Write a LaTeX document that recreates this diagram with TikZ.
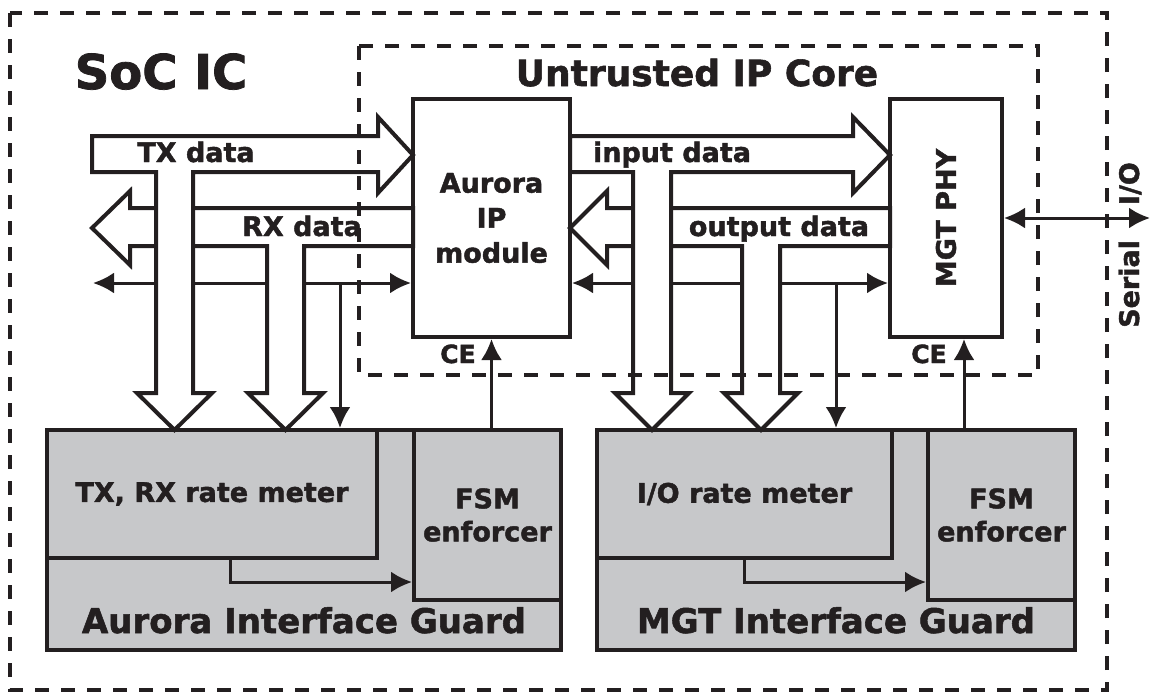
\documentclass[tikz,border=0pt]{standalone}
\usepackage{fontspec}
\setmainfont{DejaVu Sans}[BoldFeatures={FakeBold=1.6}]
\usetikzlibrary{arrows.meta}
\definecolor{ink}{HTML}{231F20}
\definecolor{guardgray}{HTML}{C7C8CA}

\begin{document}
\begin{tikzpicture}[x=1pt, y=-1pt, line join=miter,
    box/.style={draw=ink, line width=4pt, fill=white, inner sep=0pt},
    guard/.style={draw=ink, line width=4pt, fill=guardgray, inner sep=0pt,
        text=ink, align=center, font=\bfseries\fontsize{27}{33}\selectfont},
    fat/.style={draw=ink, line width=4pt, fill=white},
    thin/.style={draw=ink, line width=3pt, -{Latex[length=21pt,width=21pt]}},
    both/.style={thin, {Latex[length=21pt,width=21pt]}-{Latex[length=21pt,width=21pt]}},
    zone/.style={draw=ink, line width=4pt, dash pattern=on 14pt off 12pt},
    lbl/.style={text=ink, inner sep=0pt, align=center, font=\bfseries\fontsize{27}{33}\selectfont},
    title/.style={text=ink, inner sep=0pt, anchor=base, font=\bfseries\fontsize{34}{34}\selectfont}]

    \useasboundingbox (0,0) rectangle (1151,691);

    % 1. Titles
    \node[title, font=\bfseries\fontsize{48}{48}\selectfont] (soc) at (161,89) {SoC IC};
    \node[title, font=\bfseries\fontsize{36}{36}\selectfont] (core) at (697,86) {Untrusted IP Core};

    % 2. IP core blocks
    \node[box, minimum width=157pt, minimum height=238pt] (aurora) at (491.5,218) {};
    \node[lbl, font=\bfseries\fontsize{27}{35}\selectfont] (auroral) at (aurora.center) {Aurora\\IP\\module};
    \node[box, minimum width=112pt, minimum height=238pt] (mgt) at (946,218) {};
    \node[lbl, rotate=90] (mgtl) at (mgt.center) {MGT PHY};

    % 3. Guards
    \node[guard, minimum width=514pt, minimum height=220pt] (ag) at (304,540) {};
    \node[guard, minimum width=330pt, minimum height=128pt, anchor=north west] (arate) at (ag.north west) {TX, RX rate meter};
    \node[guard, minimum width=147pt, minimum height=170pt, anchor=north east] (afsm) at (ag.north east) {FSM\\enforcer};
    \node[title] (agt) at (304,633) {Aurora Interface Guard};

    \node[guard, minimum width=478pt, minimum height=220pt] (mg) at (836,540) {};
    \node[guard, minimum width=295pt, minimum height=128pt, anchor=north west] (mrate) at (mg.north west) {I/O rate meter};
    \node[guard, minimum width=147pt, minimum height=170pt, anchor=north east] (mfsm) at (mg.north east) {FSM\\enforcer};
    \node[title] (mgt-t) at (836,633) {MGT Interface Guard};

    % 4. Thin control buses
    \coordinate (busy) at (0,283);
    \coordinate (lend) at (93,283);
    \coordinate (ltap) at (340,283);
    \coordinate (rtap) at (836,283);
    \draw[both] (lend) -- (aurora.west |- busy);
    \draw[both] (aurora.east |- busy) -- (mgt.west |- busy);
    \draw[thin] (ltap) -- (ltap |- ag.north);
    \draw[thin] (rtap) -- (rtap |- mg.north);

    % 5. Wide data buses
    \draw[fat] (413,208) -- (130,208) -- (130,191) -- (92,228) -- (130,265) -- (130,246)
        -- (267,246) -- (267,393) -- (248,393) -- (285.5,430) -- (323,393) -- (304,393)
        -- (304,246) -- (413,246) -- cycle;
    \draw[fat] (92,136) -- (378,136) -- (378,117) -- (413,155) -- (378,193) -- (378,172)
        -- (193,172) -- (193,393) -- (212,393) -- (174.5,430) -- (137,393) -- (156,393)
        -- (156,172) -- (92,172) -- cycle;
    \draw[fat] (890,208) -- (607,208) -- (607,191) -- (570,228) -- (607,265) -- (607,246)
        -- (742,246) -- (742,393) -- (724,393) -- (761,430) -- (798,393) -- (780,393)
        -- (780,246) -- (890,246) -- cycle;
    \draw[fat] (570,136) -- (853,136) -- (853,117) -- (890,155) -- (853,193) -- (853,172)
        -- (671,172) -- (671,393) -- (689,393) -- (652,430) -- (615,393) -- (633,393)
        -- (633,172) -- (570,172) -- cycle;

    \node[lbl, anchor=base] (txl) at (196,162) {TX data};
    \node[lbl, anchor=base] (rxl) at (302,236) {RX data};
    \node[lbl, anchor=base] (inl) at (672,162) {input data};
    \node[lbl, anchor=base] (outl) at (779,236) {output data};

    % 6. Dashed zones
    \draw[zone] (10,13) rectangle (1107,690);
    \draw[zone] (359,46) rectangle (1038,375);

    % 7. Enables and serial link
    \draw[thin] (aurora.south |- afsm.north) -- (aurora.south);
    \draw[thin] ([xshift=18pt]mgt.south |- mfsm.north) -- ([xshift=18pt]mgt.south);
    \node[lbl, anchor=base, font=\bfseries\fontsize{25}{25}\selectfont] (ce1) at (458,363) {CE};
    \node[lbl, anchor=base, font=\bfseries\fontsize{25}{25}\selectfont] (ce2) at (929,363) {CE};

    \draw[thin] ([xshift=18pt]arate.south) |- ([yshift=-67pt]afsm.west);
    \draw[thin] (mrate.south) |- ([yshift=-67pt]mfsm.west);

    \coordinate (serial) at (1150,218);
    \draw[both] (mgt.east) -- (serial);
    \node[lbl, rotate=90] (serl) at (1130,245) {Serial\hspace{35pt}I/O};

\end{tikzpicture}
\end{document}
